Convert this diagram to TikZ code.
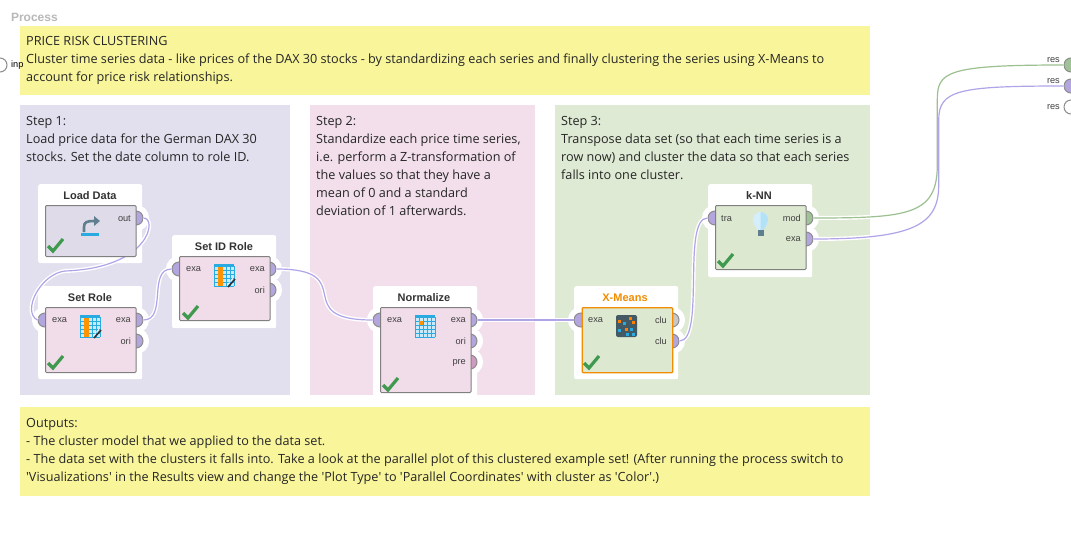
\documentclass[tikz,border=0pt]{standalone}
\usepackage{xcolor}
\usepackage{fontspec}
\setmainfont{Open Sans}
\newfontfamily\opfont{Liberation Sans}
\definecolor{noteyellow}{HTML}{F9F59B}
\definecolor{steplilac}{HTML}{E2DFEE}
\definecolor{steppink}{HTML}{F2DFEB}
\definecolor{stepgreen}{HTML}{DEEAD3}
\definecolor{boxlilac}{HTML}{DFDBE9}
\definecolor{boxpink}{HTML}{F1DCE9}
\definecolor{boxgreen}{HTML}{DCE8CF}
\definecolor{portlilac}{HTML}{B3A6DE}
\definecolor{portgreen}{HTML}{9FC296}
\definecolor{portpink}{HTML}{D09BC0}
\definecolor{portgrey}{HTML}{C8C8C8}
\definecolor{wirelilac}{HTML}{B0A4E8}
\definecolor{wiregreen}{HTML}{9CC090}
\definecolor{okgreen}{HTML}{3F9A4F}
\definecolor{selorange}{HTML}{F28C00}
\definecolor{tableblue}{HTML}{29ABE2}
\definecolor{slate}{HTML}{5F7F8F}
\definecolor{bulbpale}{HTML}{D4EEFB}
\definecolor{bulbblue}{HTML}{B3E2F8}
\newcommand{\modpath}{(knnmod.east) .. controls +(95,0) and +(0,50) .. (greenbendlow) -- (greenbendup) .. controls +(0,-28) and +(-118,0) .. (resone.west)}
\newcommand{\exapath}{(knnexa.east) .. controls +(100,0) and +(0,40) .. (lilacbendlow) -- (lilacbendup) .. controls +(0,-30) and +(-105,0) .. (restwo.west)}
\tikzset{
  panel/.style={inner sep=0pt, outer sep=0pt},
  notetext/.style={anchor=north west, inner sep=0pt, align=left, text=black!85,
    font=\fontsize{12.65}{18}\selectfont},
  backing/.style={fill=white, rounded corners=2pt, inner sep=0pt, minimum width=104pt},
  opbox/.style={draw=black!50, line width=1pt, rounded corners=1pt, inner sep=0pt, minimum width=90.5pt},
  optitle/.style={inner sep=0pt, text=black!80, font=\opfont\fontsize{11}{11}\selectfont\bfseries},
  port/.style={circle, inner sep=0pt, minimum size=14pt, draw=black!45, line width=1pt,
    preaction={draw=white, line width=12pt}},
  portlabel/.style={inner sep=0pt, text=black!75, font=\opfont\fontsize{9.2}{10}\selectfont},
  wirehalo/.style={draw=white, line width=4pt},
  wireline/.style={draw=wirelilac, line width=1.2pt},
  wire/.style={wireline, preaction={wirehalo}},
  okmark/.pic={\draw[okgreen, line width=3.2pt] (0,8) -- (5,13) -- (15,1);},
  tablegrid/.pic={
    \fill[tableblue!25] (0,0) rectangle (20,22);
    \fill[tableblue] (0,0) rectangle (20,2.5);
    \foreach \gx in {0,4,...,20} {\draw[tableblue, line width=.6pt] (\gx,2) -- (\gx,22);}
    \foreach \gy in {6,10,...,22} {\draw[tableblue, line width=.6pt] (0,\gy) -- (20,\gy);}
  },
  rolegrid/.pic={
    \pic at (0,0) {tablegrid};
    \fill[orange!85!yellow] (4,2.5) rectangle (8.5,22);
    \draw[black!80, line width=1.6pt] (14,23) -- (21,15);
    \draw[white, line width=.5pt] (13,21) -- (19,14);
  }
}
\begin{document}
\begin{tikzpicture}[x=1pt,y=-1pt]
  \useasboundingbox (0,0) rectangle (1071,552);
  \fill[white] (0,0) rectangle (1071,552);
  \node[panel, anchor=north west, font=\opfont\fontsize{12}{12}\selectfont\bfseries, text=black!28] (processtitle) at (11,13.5) {Process};

  \node[panel, fill=noteyellow, anchor=north west, minimum width=850pt, minimum height=69pt] (topnote) at (20,26) {};
  \node[panel, fill=steplilac, anchor=north west, minimum width=270pt, minimum height=290pt] (stepone) at (20,105) {};
  \node[panel, fill=steppink, anchor=north west, minimum width=225pt, minimum height=290pt] (steptwo) at (310,105) {};
  \node[panel, fill=stepgreen, anchor=north west, minimum width=315pt, minimum height=290pt] (stepthree) at (555,105) {};
  \node[panel, fill=noteyellow, anchor=north west, minimum width=850pt, minimum height=89pt] (bottomnote) at (20,407) {};

  \node[notetext] (toptext) at (26,36) {PRICE RISK CLUSTERING\\
    Cluster time series data - like prices of the DAX 30 stocks - by standardizing each series and finally clustering the series using X-Means to\\
    account for price risk relationships.};
  \node[notetext] (steponetext) at (26,116) {Step 1:\\
    Load price data for the German DAX 30\\
    stocks. Set the date column to role ID.};
  \node[notetext] (steptwotext) at (316,116) {Step 2:\\
    Standardize each price time series,\\
    i.e. perform a Z-transformation of\\
    the values so that they have a\\
    mean of 0 and a standard\\
    deviation of 1 afterwards.};
  \node[notetext] (stepthreetext) at (561,116) {Step 3:\\
    Transpose data set (so that each time series is a\\
    row now) and cluster the data so that each series\\
    falls into one cluster.};
  \node[notetext] (bottomtext) at (26,418) {Outputs:\\
    - The cluster model that we applied to the data set.\\
    - The data set with the clusters it falls into. Take a look at the parallel plot of this clustered example set! (After running the process switch to\\
    \textquotesingle Visualizations\textquotesingle{} in the Results view and change the \textquotesingle Plot Type\textquotesingle{} to \textquotesingle Parallel Coordinates\textquotesingle{} with cluster as \textquotesingle Color\textquotesingle.)};

  \node[backing, anchor=north west, minimum height=79pt] (loadback) at (38,184) {};
  \node[backing, anchor=north west, minimum height=93pt] (roleback) at (38,286) {};
  \node[backing, anchor=north west, minimum height=93pt] (idback) at (172,235) {};
  \node[backing, anchor=north west, minimum height=113pt] (normback) at (373,286) {};
  \node[backing, anchor=north west, minimum height=93pt] (xmeansback) at (574,286) {};
  \node[backing, anchor=north west, minimum height=93pt] (knnback) at (708,184) {};

  \foreach \portname/\px/\py/\portcol in {
      loadout/136/218/portlilac, rolein/45/320/portlilac, roleout/136/320/portlilac, roleori/136/341/portlilac,
      idin/179/269/portlilac, idout/269/269/portlilac, idori/269/290/portlilac,
      normin/380/320/portlilac, normout/470/320/portlilac, normori/470/341/portlilac, normpre/470/362/portpink,
      xmeansin/581/320/portlilac, xmeansone/672/320/portgrey, xmeanstwo/672/341/portlilac,
      knnin/715/218/portlilac, knnmod/806/218/portgreen, knnexa/806/239/portlilac,
      resone/1071/65/portgreen, restwo/1071/86/portlilac, resthree/1071/107/white, inpport/0/65/white} {
    \node[port, fill=\portcol] (\portname) at (\px,\py) {};
  }

  \coordinate (loadbend) at (65,271);
  \coordinate (greenbendlow) at (937.3,165);
  \coordinate (greenbendup) at (937.3,100);
  \coordinate (lilacbendlow) at (938.7,185);
  \coordinate (lilacbendup) at (938.7,120);
  \draw[wire] (loadout.east) .. controls +(14,0) and +(85,-3) .. (loadbend) .. controls +(-25,3) and +(-16,-8) .. (rolein.west);
  \draw[wire] (roleout.east) .. controls +(24,0) and +(-24,0) .. (idin.west);
  \draw[wire] (idout.east) .. controls +(85,0) and +(-85,0) .. (normin.west);
  \draw[wire] (normout.east) -- (xmeansin.west);
  \draw[wire] (xmeanstwo.east) .. controls +(26,0) and +(-26,0) .. (knnin.west);
  \draw[wirehalo] \modpath;
  \draw[wirehalo] \exapath;
  \draw[wireline] \exapath;
  \draw[wireline, draw=wiregreen] \modpath;

  \node[opbox, fill=boxlilac, anchor=north west, minimum height=51pt] (loaddata) at (45,205) {};
  \node[opbox, fill=boxpink, anchor=north west, minimum height=65pt] (setrole) at (45,307) {};
  \node[opbox, fill=boxpink, anchor=north west, minimum height=64pt] (setidrole) at (179,256) {};
  \node[opbox, fill=boxpink, anchor=north west, minimum height=85pt] (normalize) at (380,307) {};
  \node[opbox, fill=boxgreen, draw=selorange, line width=1.4pt, anchor=north west, minimum height=65pt] (xmeans) at (581.5,307) {};
  \node[opbox, fill=boxgreen, anchor=north west, minimum height=64pt] (knn) at (715,205) {};

  \node[optitle] (loadtitle) at (90,196) {Load Data};
  \node[optitle] (roletitle) at (90,298) {Set Role};
  \node[optitle] (idtitle) at (224,247) {Set ID Role};
  \node[optitle] (normtitle) at (424,298) {Normalize};
  \node[optitle, text=selorange] (xmeanstitle) at (625,298) {X-Means};
  \node[optitle] (knntitle) at (759,196) {k-NN};

  \foreach \labname/\px/\py/\labtext in {
      roleinlab/52/320.5/exa, idinlab/186/269.5/exa, norminlab/387/320.5/exa, xmeansinlab/588/320.5/exa,
      knninlab/721/218.5/tra} {
    \node[portlabel, anchor=west] (\labname) at (\px,\py) {\labtext};
  }
  \foreach \labname/\px/\py/\labtext in {
      loadoutlab/131/218.5/out, roleoutlab/131/320.5/exa, roleorilab/131/341.5/ori,
      idoutlab/265/269.5/exa, idorilab/265/290.5/ori,
      normoutlab/466/320.5/exa, normorilab/466/341.5/ori, normprelab/466/362.5/pre,
      xmeansonelab/667/320.5/clu, xmeanstwolab/667/341.5/clu,
      knnmodlab/801/218.5/mod, knnexalab/801/239.5/exa,
      resonelab/1060/60.5/res, restwolab/1060/81.5/res, resthreelab/1060/107.5/res} {
    \node[portlabel, anchor=east] (\labname) at (\px,\py) {\labtext};
  }
  \node[portlabel, anchor=west, text=black] (inplab) at (11,65.5) {inp};

  \foreach \okx/\oky in {48/238, 48/355, 183/305, 383/377, 584/355, 718/253} {
    \pic at (\okx,\oky) {okmark};
  }

  \fill[tableblue] (81,233) rectangle (99,236);
  \draw[slate, line width=2.6pt] (84,232) -- (84,227) .. controls (84,222) and (87,221) .. (94,221);
  \fill[slate] (94,216) -- (100,221) -- (94,226) -- cycle;

  \pic at (80,315) {rolegrid};
  \pic at (214,264) {rolegrid};
  \pic at (415,315) {tablegrid};
  \fill[orange!85!yellow] (419,320.5) rectangle (423,324.5);

  \fill[slate!70!black, rounded corners=2pt] (616,315) rectangle (637,337);
  \foreach \dotx/\doty in {618/320, 629/317, 632/321, 625/328} {
    \fill[orange] (\dotx,\doty) rectangle +(3,3);
  }
  \foreach \dotx/\doty in {623/322, 618/329, 630/328, 632/333, 626/333} {
    \fill[tableblue] (\dotx,\doty) rectangle +(3,3);
  }

  \fill[bulbpale] (760.5,219.5) circle (7.5);
  \fill[bulbpale] (754,224) -- (767,224) -- (763.5,230) -- (757.5,230) -- cycle;
  \fill[bulbblue] (760.5,212) arc[start angle=-90, end angle=90, radius=7.5] -- (767,224) -- (763.5,230) -- (760.5,230) -- cycle;
  \fill[slate] (757.5,230) rectangle (763.5,236);
\end{tikzpicture}
\end{document}
